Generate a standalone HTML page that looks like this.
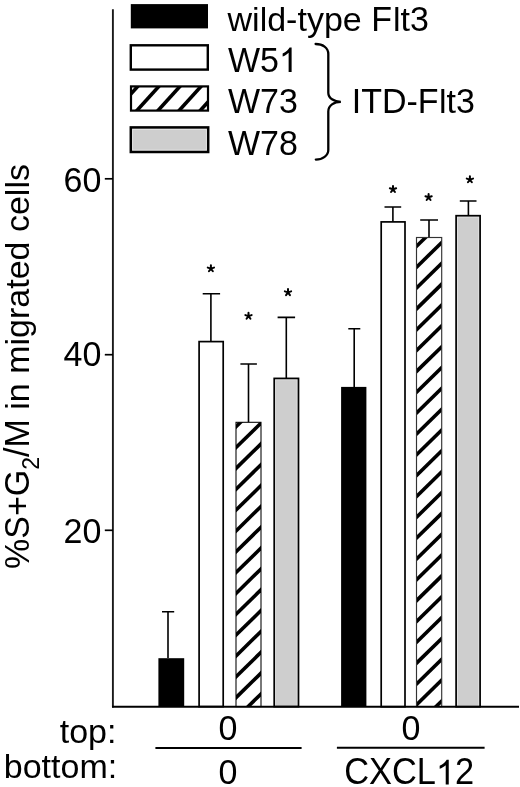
<!DOCTYPE html>
<html><head><meta charset="utf-8">
<style>
html,body{margin:0;padding:0;background:#fff;}
body{width:520px;height:787px;overflow:hidden;}
svg{display:block;will-change:transform;}
text{font-family:"Liberation Sans",sans-serif;fill:#000;font-kerning:none;}
</style></head>
<body>
<svg width="520" height="787" viewBox="0 0 520 787">
<defs>
<clipPath id="cLeg"><rect x="131" y="86.4" width="77" height="24.2"/></clipPath>
<clipPath id="cH1"><rect x="236" y="422.3" width="25" height="284.3"/></clipPath>
<clipPath id="cH2"><rect x="416.5" y="237.5" width="25.2" height="469.1"/></clipPath>
<path id="ast" d="M0,0L0.00,-3.30M0,0L3.14,-1.02M0,0L1.94,2.67M0,0L-1.94,2.67M0,0L-3.14,-1.02" stroke="#000" stroke-width="2" stroke-linecap="round" fill="none"/>
</defs>
<rect x="0" y="0" width="520" height="787" fill="#fff"/>
<!-- Legend -->
<rect x="130.8" y="4.1" width="77.2" height="24.3" fill="#000"/>
<rect x="130.8" y="45.3" width="77" height="24.3" fill="#fff" stroke="#000" stroke-width="2.4"/>
<g clip-path="url(#cLeg)" stroke="#000" stroke-width="3.6"><line x1="249.03" y1="80" x2="212.75" y2="120"/><line x1="227.93" y1="80" x2="191.65" y2="120"/><line x1="206.83" y1="80" x2="170.55" y2="120"/><line x1="185.73" y1="80" x2="149.45" y2="120"/><line x1="164.63" y1="80" x2="128.35" y2="120"/><line x1="143.53" y1="80" x2="107.25" y2="120"/><line x1="122.43" y1="80" x2="86.15" y2="120"/><line x1="101.33" y1="80" x2="65.05" y2="120"/></g>
<rect x="131" y="86.4" width="77" height="24.2" fill="none" stroke="#000" stroke-width="2.2"/>
<rect x="130.8" y="127.4" width="77.4" height="24.6" fill="#cecece"/><rect x="132.6" y="129.2" width="73.8" height="21" fill="none" stroke="#ececec" stroke-width="1"/><rect x="130.8" y="127.4" width="77.4" height="24.6" fill="none" stroke="#000" stroke-width="2.5"/>
<path d="M315.6,44 C322.6,44 328.3,47.5 328.3,54 L328.3,92.7 C328.3,98 334,101.8 340.9,101.8 C334,101.8 328.3,105.6 328.3,111.5 L328.3,150 C328.3,155.5 322.6,159.6 315.8,159.6" fill="none" stroke="#000" stroke-width="2.3" stroke-linecap="round"/>
<!-- Y label -->
<g transform="translate(29,568.9) rotate(-90)"><text transform="translate(0.00,0.00) scale(1,1.05)" font-size="34">%S+G</text><text x="99.21" y="10.10" font-size="23">2</text><text transform="translate(112.00,0.00) scale(1,1.05)" font-size="34">/M</text><text x="159.22" y="0.00" font-size="34">in migrated cells</text></g>
<!-- Axes -->
<line x1="112.9" y1="9.2" x2="112.9" y2="707.6" stroke="#1a1a1a" stroke-width="1.9"/>
<g stroke="#000" stroke-width="1.7">
<line x1="104.8" y1="178.8" x2="113" y2="178.8"/>
<line x1="104.8" y1="354.7" x2="113" y2="354.7"/>
<line x1="104.8" y1="530.3" x2="113" y2="530.3"/>
</g>
<!-- Error bars -->
<g stroke="#000" stroke-width="1.6" fill="none">
<path d="M168,658 V611.8 M162,611.8 H174.2"/>
<path d="M210.9,341.6 V293.8 M202.7,293.8 H220.1"/>
<path d="M248.5,422.3 V364 M240.4,364 H256.9"/>
<path d="M286.3,378.4 V317.4 M277.6,317.4 H295.1"/>
<path d="M354.2,386.9 V328.7 M348.3,328.7 H360.3"/>
<path d="M392.9,221.9 V207 M384.5,207 H401.2"/>
<path d="M429,237.5 V220 M420.2,220 H438"/>
<path d="M468.4,215.7 V201 M459.8,201 H476.5"/>
</g>
<!-- Bars group 1 -->
<rect x="158.4" y="658.2" width="25.8" height="48.5" fill="#000"/>
<rect x="199.1" y="341.6" width="24.1" height="365" fill="#fff" stroke="#000" stroke-width="1.7"/>
<rect x="236" y="422.3" width="25" height="284.3" fill="#fff"/>
<g clip-path="url(#cH1)" stroke="#000" stroke-width="3.6"><line x1="230" y1="411.74" x2="268" y2="374.50"/><line x1="230" y1="432.58" x2="268" y2="395.34"/><line x1="230" y1="453.42" x2="268" y2="416.18"/><line x1="230" y1="474.26" x2="268" y2="437.02"/><line x1="230" y1="495.10" x2="268" y2="457.86"/><line x1="230" y1="515.94" x2="268" y2="478.70"/><line x1="230" y1="536.78" x2="268" y2="499.54"/><line x1="230" y1="557.62" x2="268" y2="520.38"/><line x1="230" y1="578.46" x2="268" y2="541.22"/><line x1="230" y1="599.30" x2="268" y2="562.06"/><line x1="230" y1="620.14" x2="268" y2="582.90"/><line x1="230" y1="640.98" x2="268" y2="603.74"/><line x1="230" y1="661.82" x2="268" y2="624.58"/><line x1="230" y1="682.66" x2="268" y2="645.42"/><line x1="230" y1="703.50" x2="268" y2="666.26"/><line x1="230" y1="724.34" x2="268" y2="687.10"/></g>
<rect x="236" y="422.3" width="25" height="284.3" fill="none" stroke="#000" stroke-width="1.05"/>
<rect x="274.2" y="378.4" width="24.3" height="328.2" fill="#cecece"/><rect x="275.55" y="379.75" width="21.6" height="326.3" fill="none" stroke="#e4e4e4" stroke-width="0.9"/><rect x="274.2" y="378.4" width="24.3" height="328.2" fill="none" stroke="#000" stroke-width="1.7"/>
<!-- Bars group 2 -->
<rect x="341.1" y="386.9" width="25.3" height="319.8" fill="#000"/>
<rect x="381.2" y="221.9" width="23.8" height="484.8" fill="#fff" stroke="#000" stroke-width="1.7"/>
<rect x="416.5" y="237.5" width="25.2" height="469.1" fill="#fff"/>
<g clip-path="url(#cH2)" stroke="#000" stroke-width="3.6"><line x1="410" y1="231.88" x2="449" y2="193.66"/><line x1="410" y1="252.72" x2="449" y2="214.50"/><line x1="410" y1="273.56" x2="449" y2="235.34"/><line x1="410" y1="294.40" x2="449" y2="256.18"/><line x1="410" y1="315.24" x2="449" y2="277.02"/><line x1="410" y1="336.08" x2="449" y2="297.86"/><line x1="410" y1="356.92" x2="449" y2="318.70"/><line x1="410" y1="377.76" x2="449" y2="339.54"/><line x1="410" y1="398.60" x2="449" y2="360.38"/><line x1="410" y1="419.44" x2="449" y2="381.22"/><line x1="410" y1="440.28" x2="449" y2="402.06"/><line x1="410" y1="461.12" x2="449" y2="422.90"/><line x1="410" y1="481.96" x2="449" y2="443.74"/><line x1="410" y1="502.80" x2="449" y2="464.58"/><line x1="410" y1="523.64" x2="449" y2="485.42"/><line x1="410" y1="544.48" x2="449" y2="506.26"/><line x1="410" y1="565.32" x2="449" y2="527.10"/><line x1="410" y1="586.16" x2="449" y2="547.94"/><line x1="410" y1="607.00" x2="449" y2="568.78"/><line x1="410" y1="627.84" x2="449" y2="589.62"/><line x1="410" y1="648.68" x2="449" y2="610.46"/><line x1="410" y1="669.52" x2="449" y2="631.30"/><line x1="410" y1="690.36" x2="449" y2="652.14"/><line x1="410" y1="711.20" x2="449" y2="672.98"/><line x1="410" y1="732.04" x2="449" y2="693.82"/><line x1="410" y1="752.88" x2="449" y2="714.66"/></g>
<rect x="416.5" y="237.5" width="25.2" height="469.1" fill="none" stroke="#333" stroke-width="1.15"/>
<rect x="456.1" y="215.7" width="24" height="491" fill="#cecece"/><rect x="457.45" y="217.05" width="21.3" height="489" fill="none" stroke="#e4e4e4" stroke-width="0.9"/><rect x="456.1" y="215.7" width="24" height="491" fill="none" stroke="#000" stroke-width="1.7"/>
<line x1="112" y1="706.7" x2="519" y2="706.7" stroke="#000" stroke-width="2"/>
<!-- Asterisks -->
<use href="#ast" x="210.9" y="268.6"/><use href="#ast" x="248.5" y="316.1"/><use href="#ast" x="288" y="292.4"/><use href="#ast" x="393" y="189.3"/><use href="#ast" x="428.6" y="197.3"/><use href="#ast" x="469.9" y="179.6"/>
<!-- Texts -->
<text x="227.55" y="30.80" font-size="34">wild-type </text><text transform="translate(371.15,30.80) scale(1,1.05)" font-size="34">F</text><text x="392.92" y="30.80" font-size="34">lt</text><text transform="translate(409.92,30.80) scale(1,1.05)" font-size="34">3</text><text transform="translate(227.95,71.90) scale(1,1.05)" font-size="34">W5</text><path transform="translate(278.95,71.90) scale(0.016602,-0.016602)" d="M763,0L583,0L583,1147C540,1106 483,1065 413,1024C343,983 280,952 223,931L223,1105C323,1152 410,1209 484,1276C558,1343 611,1406 641,1466L763,1466Z"/><text transform="translate(227.95,113.10) scale(1,1.05)" font-size="34">W73</text><text transform="translate(227.95,154.60) scale(1,1.05)" font-size="34">W78</text><text transform="translate(351.70,113.00) scale(1,1.05)" font-size="34">ITD-F</text><text x="439.06" y="113.00" font-size="34">lt</text><text transform="translate(456.06,113.00) scale(1,1.05)" font-size="34">3</text><text transform="translate(63.58,191.60) scale(1,1.05)" font-size="34">60</text><text transform="translate(63.58,366.00) scale(1,1.05)" font-size="34">40</text><text transform="translate(63.58,542.50) scale(1,1.05)" font-size="34">20</text><text x="59.74" y="742.60" font-size="34">top:</text><text x="3.81" y="778.40" font-size="34">bottom:</text><text transform="translate(218.60,740.40) scale(1,1.05)" font-size="34">0</text><text transform="translate(218.60,784.30) scale(1,1.05)" font-size="34">0</text><text transform="translate(401.50,740.40) scale(1,1.05)" font-size="34">0</text><text transform="translate(344.17,784.40) scale(1,1.05)" font-size="34.4">CXCL</text><path transform="translate(435.93,784.40) scale(0.016797,-0.016797)" d="M763,0L583,0L583,1147C540,1106 483,1065 413,1024C343,983 280,952 223,931L223,1105C323,1152 410,1209 484,1276C558,1343 611,1406 641,1466L763,1466Z"/><text transform="translate(455.06,784.40) scale(1,1.05)" font-size="34.4">2</text>
<line x1="155.4" y1="748" x2="301.6" y2="748" stroke="#000" stroke-width="2"/>
<line x1="336.9" y1="747.8" x2="484.6" y2="747.8" stroke="#000" stroke-width="2"/>
</svg>
</body></html>
